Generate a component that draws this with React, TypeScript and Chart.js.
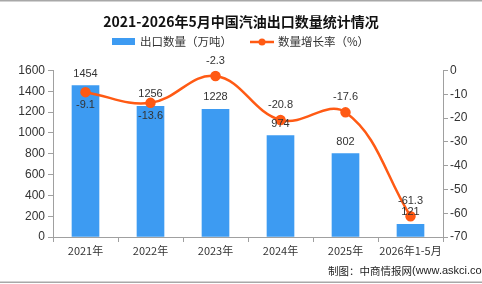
import React, { useEffect, useRef } from "react";
import { Chart, registerables } from "chart.js";

Chart.register(...registerables);

const categories = ["2021年", "2022年", "2023年", "2024年", "2025年", "2026年1-5月"];
const exportVolume = [1454, 1256, 1228, 974, 802, 121];
const growthRate = [-9.1, -13.6, -2.3, -20.8, -17.6, -61.3];
const leftTicks = [0, 200, 400, 600, 800, 1000, 1200, 1400, 1600];
const rightTicks = [-70, -60, -50, -40, -30, -20, -10, 0];
const titleText = "2021-2026年5月中国汽油出口数量统计情况";
const barLabel = "出口数量（万吨）";
const lineLabel = "数量增长率（%）";
const sourceCjk = "制图：中商情报网";
const sourceLatin = "(www.askci.com)";

const BAR_COLOR = "#3d9bf2";
const LINE_COLOR = "#ff5a14";
const AXIS_COLOR = "#a0a0a0";
const TEXT_COLOR = "#333333";
const CJK = '"Noto Sans CJK SC", "Liberation Sans", sans-serif';
const LATIN = '"Liberation Sans", sans-serif';

const decorPlugin = {
  id: "decor",
  afterDraw(chart: any) {
    const ctx = chart.ctx;
    const w = chart.width;
    const h = chart.height;
    ctx.save();
    // frame lines
    ctx.fillStyle = "#a8a8a8";
    ctx.fillRect(0, 0, w, 1.5);
    ctx.fillRect(0, h - 2.5, w, 1.5);
    // title
    ctx.fillStyle = "#111";
    ctx.font = "bold 14px " + CJK;
    ctx.textAlign = "center";
    ctx.textBaseline = "middle";
    ctx.fillText(titleText, 241, 22);
    // legend
    ctx.font = "11.5px " + CJK;
    ctx.textAlign = "left";
    ctx.fillStyle = BAR_COLOR;
    ctx.fillRect(112, 38, 23, 7);
    ctx.fillStyle = TEXT_COLOR;
    ctx.fillText(barLabel, 140, 42);
    ctx.strokeStyle = LINE_COLOR;
    ctx.lineWidth = 2.5;
    ctx.beginPath();
    ctx.moveTo(250, 42);
    ctx.lineTo(274, 42);
    ctx.stroke();
    ctx.fillStyle = LINE_COLOR;
    ctx.beginPath();
    ctx.arc(262, 42, 3.5, 0, Math.PI * 2);
    ctx.fill();
    ctx.fillStyle = TEXT_COLOR;
    ctx.fillText(lineLabel, 278, 42);
    // source
    ctx.fillStyle = "#222";
    ctx.font = "10.5px " + CJK;
    ctx.fillText(sourceCjk, 328, 271);
    const cw = ctx.measureText(sourceCjk).width;
    ctx.font = "11px " + LATIN;
    ctx.fillText(sourceLatin, 328 + cw, 271);
    ctx.restore();
  },
  afterDatasetsDraw(chart: any) {
    const ctx = chart.ctx;
    ctx.save();
    ctx.font = "11px " + LATIN;
    ctx.fillStyle = TEXT_COLOR;
    ctx.textAlign = "center";
    ctx.textBaseline = "middle";
    const barMeta = chart.getDatasetMeta(0);
    barMeta.data.forEach((el: any, i: number) => {
      ctx.fillText(String(exportVolume[i]), el.x, el.y - 12);
    });
    const lineMeta = chart.getDatasetMeta(1);
    lineMeta.data.forEach((el: any, i: number) => {
      const below = i < 2;
      ctx.fillText(String(growthRate[i]), el.x, below ? el.y + 13 : el.y - 15);
    });
    ctx.restore();
  },
};

export default function App() {
  const ref = useRef<HTMLCanvasElement | null>(null);
  useEffect(() => {
    document.body.style.margin = "0";
    const canvas = ref.current;
    if (!canvas) return;
    const chart = new Chart(canvas, {
      type: "bar",
      data: {
        labels: categories,
        datasets: [
          {
            type: "bar",
            label: barLabel,
            data: exportVolume,
            backgroundColor: BAR_COLOR,
            barThickness: 27,
            yAxisID: "y",
            order: 1,
          } as any,
          {
            type: "line",
            label: lineLabel,
            data: growthRate,
            borderColor: LINE_COLOR,
            backgroundColor: LINE_COLOR,
            borderWidth: 2.5,
            pointRadius: 4,
            pointBackgroundColor: LINE_COLOR,
            pointBorderColor: LINE_COLOR,
            tension: 0.4,
            yAxisID: "y1",
            order: 0,
          } as any,
        ],
      },
      options: {
        responsive: false,
        animation: false,
        devicePixelRatio: 1,
        layout: { padding: { top: 70.5, left: 0, right: 0, bottom: 0 } },
        plugins: {
          legend: { display: false },
          title: { display: false },
          tooltip: { enabled: false },
        },
        scales: {
          x: {
            offset: true,
            grid: {
              display: true,
              drawOnChartArea: false,
              drawTicks: true,
              tickLength: 5,
              color: AXIS_COLOR,
              offset: true,
            },
            border: { display: true, color: AXIS_COLOR },
            ticks: {
              color: TEXT_COLOR,
              font: { size: 11, family: CJK },
              padding: 2,
              maxRotation: 0,
              autoSkip: false,
            },
            afterFit(scale: any) {
              scale.height = 47;
            },
          },
          y: {
            position: "left",
            min: 0,
            max: 1600,
            afterBuildTicks(scale: any) {
              scale.ticks = leftTicks.map((v) => ({ value: v }));
            },
            grid: {
              display: true,
              drawOnChartArea: false,
              drawTicks: true,
              tickLength: 5,
              color: AXIS_COLOR,
            },
            border: { display: true, color: AXIS_COLOR },
            ticks: {
              color: TEXT_COLOR,
              font: { size: 12, family: LATIN },
              padding: 3,
              callback: (v: any) => String(v),
            },
            afterFit(scale: any) {
              scale.width = 53;
            },
          },
          y1: {
            position: "right",
            min: -70,
            max: 0,
            afterBuildTicks(scale: any) {
              scale.ticks = rightTicks.map((v) => ({ value: v }));
            },
            grid: {
              display: true,
              drawOnChartArea: false,
              drawTicks: true,
              tickLength: 5,
              color: AXIS_COLOR,
            },
            border: { display: true, color: AXIS_COLOR },
            ticks: {
              color: TEXT_COLOR,
              font: { size: 12, family: LATIN },
              padding: 2,
              callback: (v: any) => String(v),
            },
            afterFit(scale: any) {
              scale.width = 39;
            },
          },
        },
      },
      plugins: [decorPlugin],
    } as any);
    return () => chart.destroy();
  }, []);
  return <canvas ref={ref} width={482} height={284} style={{ display: "block" }} />;
}
